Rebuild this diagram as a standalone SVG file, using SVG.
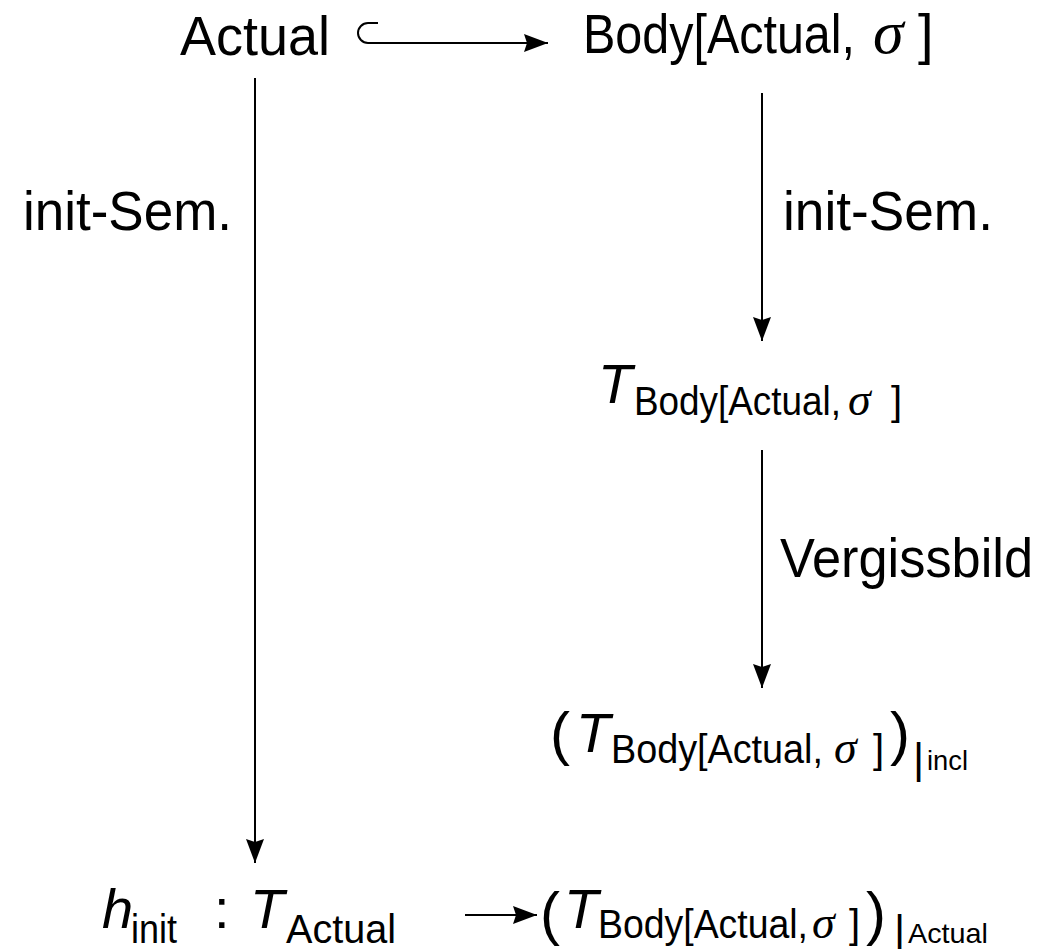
<svg xmlns="http://www.w3.org/2000/svg" width="1041" height="949" viewBox="0 0 1041 949">
<defs>
<style>
text{font-family:"Liberation Sans",Arial,sans-serif;fill:#000}
.m{font-size:56px}
.p{font-size:60px}
.s{font-size:40px}
.ss{font-size:28px}
.it{font-style:italic}
.g{font-family:"Liberation Serif","Times New Roman",serif;font-style:italic}
.gs{font-size:46px}
.e{stroke:#000;stroke-width:2;fill:none}
</style>
<marker id="ah" viewBox="0 0 24 18" refX="24" refY="9" markerWidth="24" markerHeight="18" markerUnits="userSpaceOnUse" orient="auto"><path d="M0,0 L24,9 L0,18 L3,9 Z" fill="#000"/></marker>
</defs>
<rect width="1041" height="949" fill="#fff"/>
<g id="n-actual"><text class="m" x="180" y="55" textLength="150" lengthAdjust="spacingAndGlyphs">Actual</text></g>
<g id="n-body">
<text class="m" x="583" y="53" textLength="272" lengthAdjust="spacingAndGlyphs">Body[Actual,</text>
<text class="g" x="873" y="53" style="font-size:62px">σ</text>
<text class="m" x="918" y="53">]</text>
</g>
<g id="n-tbody">
<text class="m it" x="598" y="403">T</text>
<text class="s" x="634" y="415" textLength="207" lengthAdjust="spacingAndGlyphs">Body[Actual,</text>
<text class="gs g" x="848" y="415">σ</text>
<text class="s" x="891" y="415">]</text>
</g>
<g id="n-incl">
<text class="p" x="550" y="754">(</text>
<text class="m it" x="576" y="752">T</text>
<text class="s" x="611" y="763" textLength="212" lengthAdjust="spacingAndGlyphs">Body[Actual,</text>
<text class="gs g" x="834" y="763">σ</text>
<text class="s" x="873" y="763">]</text>
<text class="p" x="890" y="754">)</text>
<text x="913" y="773" style="font-size:43px">|</text>
<text class="ss" x="927" y="770" textLength="41" lengthAdjust="spacingAndGlyphs">incl</text>
</g>
<g id="n-hinit">
<text class="m it" x="102" y="928">h</text>
<text class="s" x="131" y="943" textLength="46" lengthAdjust="spacingAndGlyphs">init</text>
<text class="m" x="214" y="928">:</text>
<text class="m it" x="250" y="928">T</text>
<text class="s" x="286" y="943" textLength="110" lengthAdjust="spacingAndGlyphs">Actual</text>
</g>
<g id="n-actualres">
<text class="p" x="540" y="934">(</text>
<text class="m it" x="564" y="928">T</text>
<text class="s" x="598" y="938" textLength="210" lengthAdjust="spacingAndGlyphs">Body[Actual,</text>
<text class="gs g" x="812" y="938">σ</text>
<text class="s" x="849" y="938">]</text>
<text class="p" x="866" y="934">)</text>
<text x="894" y="945" style="font-size:43px">|</text>
<text class="ss" x="908" y="943" textLength="80" lengthAdjust="spacingAndGlyphs">Actual</text>
</g>
<g id="connectors">
<path class="e" d="M378,23 H368 A10,10 0 0 0 368,43 H548" marker-end="url(#ah)"/>
<line class="e" x1="255" y1="78" x2="255" y2="863" marker-end="url(#ah)"/>
<line class="e" x1="762" y1="93" x2="762" y2="341" marker-end="url(#ah)"/>
<line class="e" x1="762" y1="450" x2="762" y2="688" marker-end="url(#ah)"/>
<line class="e" x1="465" y1="915" x2="537" y2="915" marker-end="url(#ah)"/>
</g>
<g id="labels">
<text class="m" x="23" y="230" textLength="209" lengthAdjust="spacingAndGlyphs">init-Sem.</text>
<text class="m" x="783" y="230" textLength="210" lengthAdjust="spacingAndGlyphs">init-Sem.</text>
<text class="m" x="780" y="577" textLength="253" lengthAdjust="spacingAndGlyphs">Vergissbild</text>
</g>
</svg>
